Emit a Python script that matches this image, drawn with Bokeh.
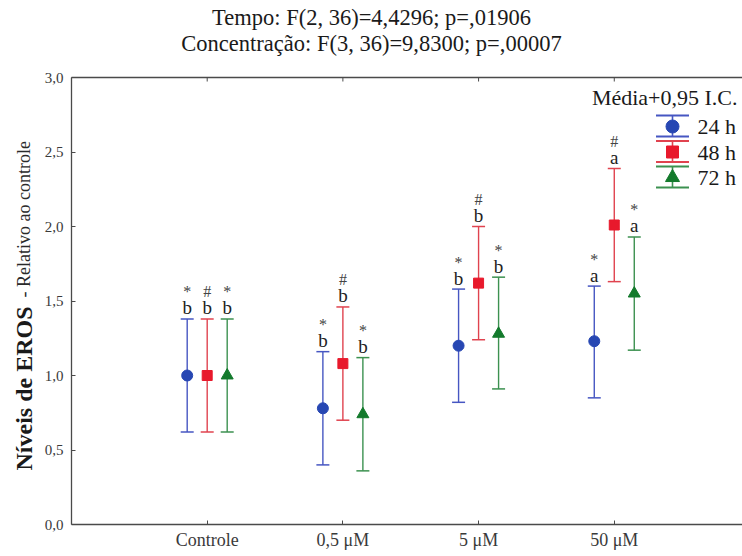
import math

from bokeh.core.properties import value
from bokeh.embed import file_html
from bokeh.models import (ColumnDataSource, CustomJSTickFormatter, FixedTicker,
                          Label, Range1d, TeeHead, Whisker)
from bokeh.plotting import figure
from bokeh.resources import INLINE

# ---- data -------------------------------------------------------------
concentrations = ["Controle", "0,5 μM", "5 μM", "50 μM"]
y_ticks = [0.0, 0.5, 1.0, 1.5, 2.0, 2.5, 3.0]

mean_24h = [1.00, 0.78, 1.20, 1.23]
lower_24h = [0.62, 0.40, 0.82, 0.85]
upper_24h = [1.38, 1.16, 1.58, 1.60]

mean_48h = [1.00, 1.08, 1.62, 2.01]
lower_48h = [0.62, 0.70, 1.24, 1.63]
upper_48h = [1.38, 1.46, 2.00, 2.39]

mean_72h = [1.00, 0.74, 1.28, 1.55]
lower_72h = [0.62, 0.36, 0.91, 1.17]
upper_72h = [1.38, 1.12, 1.66, 1.93]

group_letters = ["b", "b", "b", "a"]
series_names = ["24 h", "48 h", "72 h"]
series_marks = ["*", "#", "*"]

title_lines = ["Tempo: F(2, 36)=4,4296; p=,01906",
               "Concentração: F(3, 36)=9,8300; p=,00007"]
legend_title = "Média+0,95 I.C."
y_label_bold = "Níveis de EROS"
y_label_rest = "- Relativo ao controle"

# ---- layout -----------------------------------------------------------
# The frame covers the whole canvas; both axes are pinned at 0 so that the
# headings and the rotated axis title can live inside the frame.
W, H = 742, 556
LEFT, TOP, BOTTOM = 71, 77, 32
X_END = 4.945
Y_END = 3.0
px_per_x = (W - LEFT) / X_END
px_per_y = (H - TOP - BOTTOM) / Y_END


def dx(px):
    """canvas pixel column -> data x"""
    return (px - LEFT) / px_per_x


def dy(py):
    """canvas pixel row -> data y"""
    return (H - BOTTOM - py) / px_per_y


SERIF = "Liberation Serif"
AXIS_COLOR = "#4a4a4a"
LABEL_COLOR = "#3a3a3a"
TEXT_COLOR = "#1a1a1a"

p = figure(width=W, height=H, output_backend="svg", toolbar_location=None,
           x_range=Range1d(dx(0), dx(W)), y_range=Range1d(dy(H), dy(0)),
           min_border_left=0, min_border_right=0,
           min_border_top=0, min_border_bottom=0,
           x_axis_location="below", y_axis_location="left")
p.outline_line_color = None
p.grid.visible = False
p.background_fill_color = "white"
p.border_fill_color = "white"

cat_x = [i + 1 for i in range(len(concentrations))]

# axes
xa = p.xaxis[0]
xa.ticker = FixedTicker(ticks=cat_x)
xa.major_label_overrides = {x: c for x, c in zip(cat_x, concentrations)}
xa.bounds = (0, X_END)
xa.fixed_location = 0
ya = p.yaxis[0]
ya.ticker = FixedTicker(ticks=y_ticks)
ya.formatter = CustomJSTickFormatter(code="return tick.toFixed(1).replace('.', ',');")
ya.bounds = (0, Y_END)
ya.fixed_location = 0

for ax in (xa, ya):
    ax.axis_line_color = AXIS_COLOR
    ax.axis_line_width = 1.3
    ax.major_tick_line_color = AXIS_COLOR
    ax.major_tick_in = 4
    ax.major_tick_out = 0
    ax.minor_tick_line_color = None
    ax.major_label_text_font = SERIF
    ax.major_label_text_color = LABEL_COLOR
xa.major_label_text_font_size = "18px"
xa.major_label_standoff = 5
ya.major_label_text_font_size = "15px"
ya.major_label_standoff = 8

# top border with inward ticks at the category positions
p.segment(x0=[0], y0=[Y_END], x1=[X_END], y1=[Y_END],
          line_color=AXIS_COLOR, line_width=1.3)
p.segment(x0=cat_x, y0=[Y_END] * len(cat_x), x1=cat_x,
          y1=[Y_END - 4 / px_per_y] * len(cat_x),
          line_color=AXIS_COLOR, line_width=1.0)

# ---- headings -----------------------------------------------------------
for line, row in zip(title_lines, (17, 43)):
    p.add_layout(Label(x=dx(W / 2), y=dy(row), text=line, text_align="center",
                       text_baseline="middle", text_font=SERIF,
                       text_font_size="22.5px", text_color=TEXT_COLOR))

# ---- series -----------------------------------------------------------
offset = 20 / px_per_x
series = [
    (mean_24h, lower_24h, upper_24h, -offset, "circle", 11, "#2747b3", "#4656c2"),
    (mean_48h, lower_48h, upper_48h, 0.0, "square", 10, "#e8192c", "#e0434f"),
    (mean_72h, lower_72h, upper_72h, offset, "triangle", 12, "#137a2c", "#3c9150"),
]

for (mean, lo, hi, off, marker, size, fill, line), name, mark in zip(
        series, series_names, series_marks):
    src = ColumnDataSource(dict(x=[c + off for c in cat_x], mean=mean,
                                lower=lo, upper=hi, letter=group_letters,
                                mark=[mark] * len(cat_x)))
    p.add_layout(Whisker(source=src, base="x", lower="lower", upper="upper",
                         dimension="height", line_color=line, line_width=1.4,
                         upper_head=TeeHead(size=13, line_color=line, line_width=1.5),
                         lower_head=TeeHead(size=13, line_color=line, line_width=1.5)))
    p.scatter("x", "mean", source=src, marker=marker, size=size,
              fill_color=fill, line_color=fill)
    p.text("x", "upper", text="letter", source=src, text_align="center",
           text_baseline="alphabetic", y_offset=-11, text_font=value(SERIF),
           text_font_size="19px", text_color="#222222")
    p.text("x", "upper", text="mark", source=src, text_align="center",
           text_baseline="alphabetic", y_offset=-27, text_font=value(SERIF),
           text_font_size="16px", text_color="#444444")

# ---- legend -----------------------------------------------------------
p.add_layout(Label(x=dx(737), y=dy(97), text=legend_title, text_align="right",
                   text_baseline="middle", text_font=SERIF,
                   text_font_size="22px", text_color=TEXT_COLOR))
leg_x = dx(672)
half_cap = 16.5 / px_per_x
for i, ((_, _, _, _, marker, size, fill, line), name) in enumerate(
        zip(series, series_names)):
    yc = 126 + 25.5 * i
    y_top, y_bot = dy(yc - 11), dy(yc + 10)
    p.segment(x0=[leg_x], y0=[y_bot], x1=[leg_x], y1=[y_top],
              line_color=line, line_width=1.6)
    p.segment(x0=[leg_x - half_cap] * 2, y0=[y_top, y_bot],
              x1=[leg_x + half_cap] * 2, y1=[y_top, y_bot],
              line_color=line, line_width=1.8)
    p.scatter(x=[leg_x], y=[dy(yc)], marker=marker, size=size + 2,
              fill_color=fill, line_color=fill)
    p.add_layout(Label(x=dx(697), y=dy(yc), text=name, text_align="left",
                       text_baseline="middle", text_font=SERIF,
                       text_font_size="22px", text_color=TEXT_COLOR))

# ---- y axis title (bold part + regular part) ---------------------------
p.add_layout(Label(x=dx(23), y=dy(470), text=y_label_bold, angle=math.pi / 2,
                   text_align="left", text_baseline="middle", text_font=SERIF,
                   text_font_size="24px", text_font_style="bold",
                   text_color=TEXT_COLOR))
p.add_layout(Label(x=dx(23), y=dy(297), text=y_label_rest, angle=math.pi / 2,
                   text_align="left", text_baseline="middle", text_font=SERIF,
                   text_font_size="18px", text_color="#2a2a2a"))

open("out.html", "w").write(file_html(p, INLINE))
